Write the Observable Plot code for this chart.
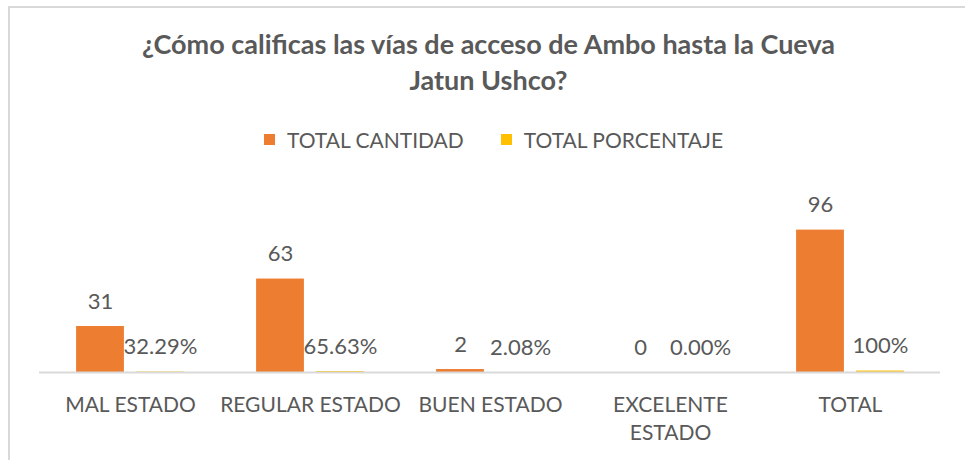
<!DOCTYPE html>
<html>
<head>
<meta charset="utf-8">
<script src="https://cdn.jsdelivr.net/npm/d3@7"></script>
<script src="https://cdn.jsdelivr.net/npm/@observablehq/plot@0.6"></script>
<style>
  html, body { margin: 0; padding: 0; background: #fff; }
  #wrap { position: relative; width: 965px; height: 460px; overflow: hidden; font-family: Lato, "Open Sans", sans-serif; color: #595959; }
  #border { position: absolute; left: 8px; top: 6px; right: -10px; bottom: -10px; border-top: 2px solid #D9D9D9; border-left: 2px solid #D9D9D9; }
  #title { position: absolute; left: 0; width: 977px; top: 26px; text-align: center; font-weight: bold; font-size: 27px; line-height: 36px; color: #595959; }
  #legend { position: absolute; left: 0; width: 987px; top: 127px; display: flex; justify-content: center; gap: 37px; font-size: 21px; }
  .item { display: flex; align-items: center; gap: 12px; }
  .sw { width: 11px; height: 11px; display: inline-block; }
  #plot { position: absolute; left: 0; top: 160px; }
</style>
</head>
<body>
<div id="wrap">
  <div id="border"></div>
  <div id="title"></div>
  <div id="legend"></div>
  <div id="plot"></div>
</div>
<script>
const titleLines = ["¿Cómo calificas las vías de acceso de Ambo hasta la Cueva", "Jatun Ushco?"];
const categories = ["MAL ESTADO", "REGULAR ESTADO", "BUEN ESTADO", "EXCELENTE ESTADO", "TOTAL"];
const tickLabels = ["MAL ESTADO", "REGULAR ESTADO", "BUEN ESTADO", "EXCELENTE\nESTADO", "TOTAL"];
const seriesNames = ["TOTAL CANTIDAD", "TOTAL PORCENTAJE"];
const cantidad = [31, 63, 2, 0, 96];
const porcentaje = [0.3229, 0.6563, 0.0208, 0, 1];

const colors = ["#ED7D31", "#FFC000"];
const textColor = "#595959";

document.getElementById("title").innerHTML = titleLines.join("<br>");
const legend = document.getElementById("legend");
seriesNames.forEach((name, i) => {
  const it = document.createElement("div");
  it.className = "item";
  const sw = document.createElement("span");
  sw.className = "sw";
  sw.style.background = colors[i];
  const tx = document.createElement("span");
  tx.textContent = name;
  it.appendChild(sw); it.appendChild(tx);
  legend.appendChild(it);
});

const rows = categories.map((c, i) => ({cat: c, cant: cantidad[i], pct: porcentaje[i]}));
const pctFmt = v => v === 1 ? "100%" : (v * 100).toFixed(2) + "%";

const W = 965, ML = 39, MR = 25;
const bw = (W - ML - MR) / categories.length;

const chart = Plot.plot({
  width: W,
  height: 300,
  marginLeft: ML,
  marginRight: MR,
  marginTop: 34,
  marginBottom: 88,
  style: {fontFamily: "Lato, 'Open Sans', sans-serif", fontSize: "22px", color: textColor, background: "transparent", overflow: "visible"},
  x: {domain: categories, padding: 0},
  y: {domain: [0, 120], axis: null},
  marks: [
    Plot.barY(rows, {x: "cat", y: "cant", fill: colors[0], insetLeft: bw / 2 - 54, insetRight: bw / 2 + 6}),
    Plot.barY(rows, {x: "cat", y: "pct", fill: colors[1], insetLeft: bw / 2 + 6, insetRight: bw / 2 - 54}),
    Plot.ruleY([0], {stroke: "#D9D9D9", strokeWidth: 2}),
    Plot.text(rows, {x: "cat", y: "cant", text: d => String(d.cant), dx: -30, dy: -25, fill: textColor, fontSize: 22}),
    Plot.text(rows, {x: "cat", y: "pct", text: d => pctFmt(d.pct), dx: 30, dy: -25, fill: textColor, fontSize: 22}),
    Plot.axisX({tickSize: 0, tickPadding: 19, tickFormat: d => tickLabels[categories.indexOf(d)], fontSize: 21, fill: textColor, lineHeight: 1.35, label: null})
  ]
});
document.getElementById("plot").appendChild(chart);
</script>
</body>
</html>
